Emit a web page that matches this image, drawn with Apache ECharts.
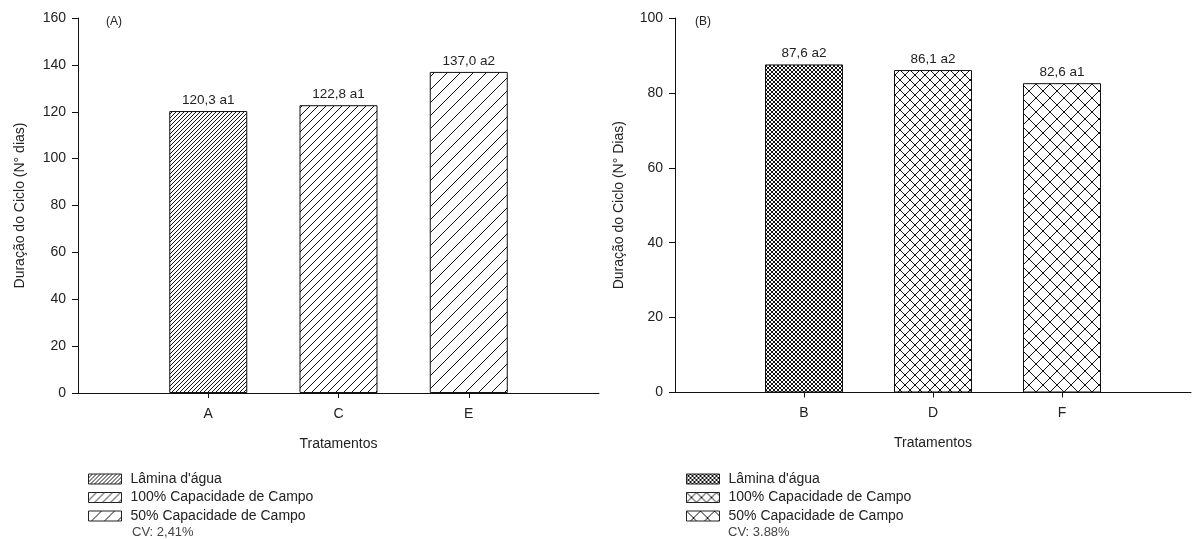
<!DOCTYPE html>
<html>
<head>
<meta charset="utf-8">
<script src="https://cdn.jsdelivr.net/npm/echarts@6/dist/echarts.min.js"></script>
<style>
html,body{margin:0;padding:0;background:#fff;}
#chart{width:1194px;height:539px;}
</style>
</head>
<body>
<div id="chart"></div>
<script>
// ---- data ----
var categoriesA = ['', 'A', 'C', 'E', ''];
var categoriesB = ['', 'B', 'D', 'F', ''];
var valuesA = [120.3, 122.8, 137.0];
var valuesB = [87.6, 86.1, 82.6];
var labelsA = ['120,3 a1', '122,8 a1', '137,0 a2'];
var labelsB = ['87,6 a2', '86,1 a2', '82,6 a1'];
var legendNames = ["Lâmina d'água", '100% Capacidade de Campo', '50% Capacidade de Campo'];
var yTicksA = {min: 0, max: 160, interval: 20};
var yTicksB = {min: 0, max: 100, interval: 20};
var cvA = 'CV: 2,41%';
var cvB = 'CV: 3.88%';

// ---- patterns ----
function hatch(s, cross) {
  var c = document.createElement('canvas');
  c.width = s; c.height = s;
  var g = c.getContext('2d');
  g.fillStyle = '#fff'; g.fillRect(0, 0, s, s);
  g.strokeStyle = '#111'; g.lineWidth = 1;
  g.beginPath();
  for (var k = -1; k <= 1; k++) {
    g.moveTo(k * s, s); g.lineTo(k * s + s, 0);
    if (cross) { g.moveTo(k * s, 0); g.lineTo(k * s + s, s); }
  }
  g.stroke();
  return {image: c, repeat: 'repeat'};
}
var patA = [hatch(4, false), hatch(8, false), hatch(13, false)];
var patB = [hatch(4, true), hatch(10, true), hatch(14, true)];

var font = 'Liberation Sans, Arial, sans-serif';
var txt = '#222';

function makeSeries(prefix, gridIdx, values, labels, pats) {
  return values.map(function (v, i) {
    var d = ['-', '-', '-', '-', '-'];
    d[i + 1] = v;
    return {
      name: prefix + i,
      type: 'bar',
      xAxisIndex: gridIdx, yAxisIndex: gridIdx,
      barWidth: 78, barGap: '-100%',
      data: d,
      itemStyle: {color: pats[i], borderColor: '#111', borderWidth: 1},
      label: {
        show: true, position: 'top', distance: 4,
        fontFamily: font, fontSize: 13.5, color: txt,
        formatter: function () { return labels[i]; }
      },
      emphasis: {disabled: true},
      silent: true
    };
  });
}

function xAx(gridIdx, cats) {
  return {
    type: 'category', gridIndex: gridIdx, data: cats, boundaryGap: false,
    name: 'Tratamentos', nameLocation: 'middle', nameGap: 44,
    nameTextStyle: {fontFamily: font, fontSize: 14, color: txt},
    axisLine: {lineStyle: {color: '#111', width: 1}},
    axisTick: {show: true, length: 5, lineStyle: {color: '#111'},
      interval: function (idx, val) { return val !== ''; }},
    axisLabel: {fontFamily: font, fontSize: 14, color: txt, margin: 14, interval: 0},
    splitLine: {show: false}
  };
}
function yAx(gridIdx, t, name, gap) {
  return {
    type: 'value', gridIndex: gridIdx, min: t.min, max: t.max, interval: t.interval,
    name: name, nameLocation: 'middle', nameGap: gap, nameRotate: 90,
    nameTextStyle: {fontFamily: font, fontSize: 14, color: txt},
    axisLine: {show: true, lineStyle: {color: '#111', width: 1}},
    axisTick: {show: true, length: 6, lineStyle: {color: '#111'}},
    axisLabel: {fontFamily: font, fontSize: 14, color: txt, margin: 12},
    splitLine: {show: false}
  };
}

function legendFmt(name) { return legendNames[+name.slice(1)]; }

function legendCfg(left, keys) {
  return {
    orient: 'vertical', left: left, top: 467, itemWidth: 33, itemHeight: 10, itemGap: 4.5,
    icon: 'rect', data: keys, formatter: legendFmt, selectedMode: false,
    itemStyle: {borderColor: '#222', borderWidth: 1},
    textStyle: {fontFamily: font, fontSize: 14, color: txt, padding: [0, 0, 0, 4]}
  };
}

var option = {
  animation: false,
  backgroundColor: '#fff',
  grid: [
    {left: 78, top: 18, width: 521, height: 375},
    {left: 675, top: 18, width: 520, height: 374.5}
  ],
  xAxis: [xAx(0, categoriesA), xAx(1, categoriesB)],
  yAxis: [yAx(0, yTicksA, 'Duração do Ciclo (N° dias)', 51), yAx(1, yTicksB, 'Duração do Ciclo (N° Dias)', 49)],
  legend: [legendCfg(83, ['a0', 'a1', 'a2']), legendCfg(681, ['b0', 'b1', 'b2'])],
  graphic: [
    {type: 'text', left: 106, top: 16, style: {text: '(A)', font: '12px ' + font, fill: txt}},
    {type: 'text', left: 695, top: 16, style: {text: '(B)', font: '12px ' + font, fill: txt}},
    {type: 'text', left: 132, top: 526, style: {text: cvA, font: '13px ' + font, fill: '#444'}},
    {type: 'text', left: 728, top: 526, style: {text: cvB, font: '13px ' + font, fill: '#444'}}
  ],
  series: makeSeries('a', 0, valuesA, labelsA, patA).concat(makeSeries('b', 1, valuesB, labelsB, patB))
};

var chart = echarts.init(document.getElementById('chart'), null, {renderer: 'canvas'});
chart.setOption(option);
</script>
</body>
</html>
